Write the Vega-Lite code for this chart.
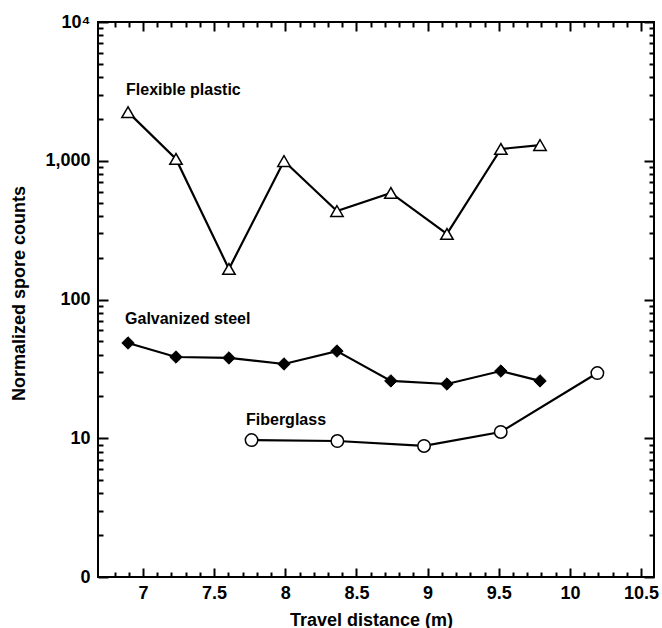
{
  "$schema": "https://vega.github.io/schema/vega-lite/v6.json",
  "width": 556,
  "height": 555,
  "autosize": {"type": "none"},
  "padding": {"left": 98, "top": 22, "right": 8, "bottom": 51},
  "background": "white",
  "config": {
    "view": {"stroke": "black", "strokeWidth": 2},
    "font": "Liberation Sans",
    "axis": {"domain": false, "grid": false, "ticks": true, "tickColor": "black", "tickWidth": 2, "labelColor": "black", "titleColor": "black", "labelFont": "Liberation Sans", "titleFont": "Liberation Sans", "labelFontWeight": "bold", "titleFontWeight": "bold", "labelFontSize": 18, "titleFontSize": 18}
  },
  "datasets": {
    "series": [
      {"material": "Flexible plastic", "distance": 6.895, "count": 2240},
      {"material": "Flexible plastic", "distance": 7.232, "count": 1030},
      {"material": "Flexible plastic", "distance": 7.604, "count": 166},
      {"material": "Flexible plastic", "distance": 7.991, "count": 995},
      {"material": "Flexible plastic", "distance": 8.363, "count": 434},
      {"material": "Flexible plastic", "distance": 8.742, "count": 586},
      {"material": "Flexible plastic", "distance": 9.136, "count": 297},
      {"material": "Flexible plastic", "distance": 9.515, "count": 1216},
      {"material": "Flexible plastic", "distance": 9.79, "count": 1298},
      {"material": "Galvanized steel", "distance": 6.895, "count": 48.6},
      {"material": "Galvanized steel", "distance": 7.232, "count": 38.5},
      {"material": "Galvanized steel", "distance": 7.604, "count": 37.9},
      {"material": "Galvanized steel", "distance": 7.991, "count": 34.3},
      {"material": "Galvanized steel", "distance": 8.363, "count": 42.5},
      {"material": "Galvanized steel", "distance": 8.742, "count": 25.9},
      {"material": "Galvanized steel", "distance": 9.136, "count": 24.6},
      {"material": "Galvanized steel", "distance": 9.515, "count": 30.5},
      {"material": "Galvanized steel", "distance": 9.79, "count": 25.9},
      {"material": "Fiberglass", "distance": 7.763, "count": 9.7},
      {"material": "Fiberglass", "distance": 8.366, "count": 9.55},
      {"material": "Fiberglass", "distance": 8.975, "count": 8.8},
      {"material": "Fiberglass", "distance": 9.514, "count": 11.1},
      {"material": "Fiberglass", "distance": 10.193, "count": 29.5}
    ],
    "labels": [
      {"label": "Flexible plastic", "distance": 6.881, "count": 3236},
      {"label": "Galvanized steel", "distance": 6.874, "count": 72.3},
      {"label": "Fiberglass", "distance": 7.724, "count": 13.5}
    ]
  },
  "resolve": {"axis": {"x": "independent", "y": "independent"}},
  "layer": [
    {
      "data": {"name": "series"},
      "mark": {"type": "line", "color": "black", "strokeWidth": 2.2},
      "encoding": {
        "detail": {"field": "material"},
        "x": {"field": "distance", "type": "quantitative", "scale": {"domain": [6.684, 10.591], "nice": false, "zero": false},
          "axis": {"orient": "bottom", "values": [7, 7.5, 8, 8.5, 9, 9.5, 10, 10.5], "format": "~f", "offset": -9, "tickSize": 9, "labelPadding": 7, "title": "Travel distance (m)", "titleBaseline": "alphabetic", "titleX": 273, "titleY": 57, "labelFlush": false, "labelOverlap": false}},
        "y": {"field": "count", "type": "quantitative", "scale": {"type": "log", "domain": [1, 10000], "nice": false},
          "axis": {"orient": "left", "values": [1, 10, 100, 1000, 10000], "offset": -10, "tickSize": 10, "labelPadding": 8, "labelExpr": "datum.value == 10000 ? '10⁴' : datum.value == 1 ? '0' : format(datum.value, ',')", "title": "Normalized spore counts", "titleX": -84, "titleY": 271, "titleBaseline": "alphabetic", "labelFlush": false, "labelOverlap": false}}
      }
    },
    {
      "data": {"name": "series"},
      "transform": [{"filter": "datum.material != 'Galvanized steel'"}],
      "mark": {"type": "point", "filled": true, "fill": "white", "stroke": "black", "strokeWidth": 1.5, "size": 155, "opacity": 1},
      "encoding": {
        "shape": {"field": "material", "type": "nominal", "scale": {"domain": ["Flexible plastic", "Galvanized steel", "Fiberglass"], "range": ["triangle-up", "diamond", "circle"]}, "legend": null},
        "x": {"field": "distance", "type": "quantitative", "scale": {"domain": [6.684, 10.591], "nice": false, "zero": false},
          "axis": {"orient": "bottom", "values": [6.8, 6.9, 7.1, 7.2, 7.3, 7.4, 7.6, 7.7, 7.8, 7.9, 8.1, 8.2, 8.3, 8.4, 8.6, 8.7, 8.8, 8.9, 9.1, 9.2, 9.3, 9.4, 9.6, 9.7, 9.8, 9.9, 10.1, 10.2, 10.3, 10.4], "offset": -5, "tickSize": 5, "labels": false, "title": null}},
        "y": {"field": "count", "type": "quantitative", "scale": {"type": "log", "domain": [1, 10000], "nice": false},
          "axis": {"orient": "left", "values": [2, 3, 4, 5, 6, 7, 8, 9, 20, 30, 40, 50, 60, 70, 80, 90, 200, 300, 400, 500, 600, 700, 800, 900, 2000, 3000, 4000, 5000, 6000, 7000, 8000, 9000], "offset": -5, "tickSize": 5, "labels": false, "title": null}}
      }
    },
    {
      "data": {"name": "series"},
      "transform": [{"filter": "datum.material == 'Galvanized steel'"}],
      "mark": {"type": "point", "shape": "diamond", "filled": true, "fill": "black", "stroke": "black", "strokeWidth": 1, "size": 155, "opacity": 1},
      "encoding": {
        "x": {"field": "distance", "type": "quantitative", "scale": {"domain": [6.684, 10.591], "nice": false, "zero": false},
          "axis": {"orient": "top", "values": [7, 7.5, 8, 8.5, 9, 9.5, 10, 10.5], "offset": -9, "tickSize": 9, "labels": false, "title": null}},
        "y": {"field": "count", "type": "quantitative", "scale": {"type": "log", "domain": [1, 10000], "nice": false},
          "axis": {"orient": "right", "values": [1, 10, 100, 1000, 10000], "offset": -10, "tickSize": 10, "labels": false, "title": null}}
      }
    },
    {
      "data": {"name": "labels"},
      "mark": {"type": "text", "align": "left", "baseline": "middle", "font": "Liberation Sans", "fontWeight": "bold", "fontSize": 16, "color": "black"},
      "encoding": {
        "text": {"field": "label"},
        "x": {"field": "distance", "type": "quantitative", "scale": {"domain": [6.684, 10.591], "nice": false, "zero": false},
          "axis": {"orient": "top", "values": [6.8, 6.9, 7.1, 7.2, 7.3, 7.4, 7.6, 7.7, 7.8, 7.9, 8.1, 8.2, 8.3, 8.4, 8.6, 8.7, 8.8, 8.9, 9.1, 9.2, 9.3, 9.4, 9.6, 9.7, 9.8, 9.9, 10.1, 10.2, 10.3, 10.4], "offset": -5, "tickSize": 5, "labels": false, "title": null}},
        "y": {"field": "count", "type": "quantitative", "scale": {"type": "log", "domain": [1, 10000], "nice": false},
          "axis": {"orient": "right", "values": [2, 3, 4, 5, 6, 7, 8, 9, 20, 30, 40, 50, 60, 70, 80, 90, 200, 300, 400, 500, 600, 700, 800, 900, 2000, 3000, 4000, 5000, 6000, 7000, 8000, 9000], "offset": -5, "tickSize": 5, "labels": false, "title": null}}
      }
    }
  ]
}
